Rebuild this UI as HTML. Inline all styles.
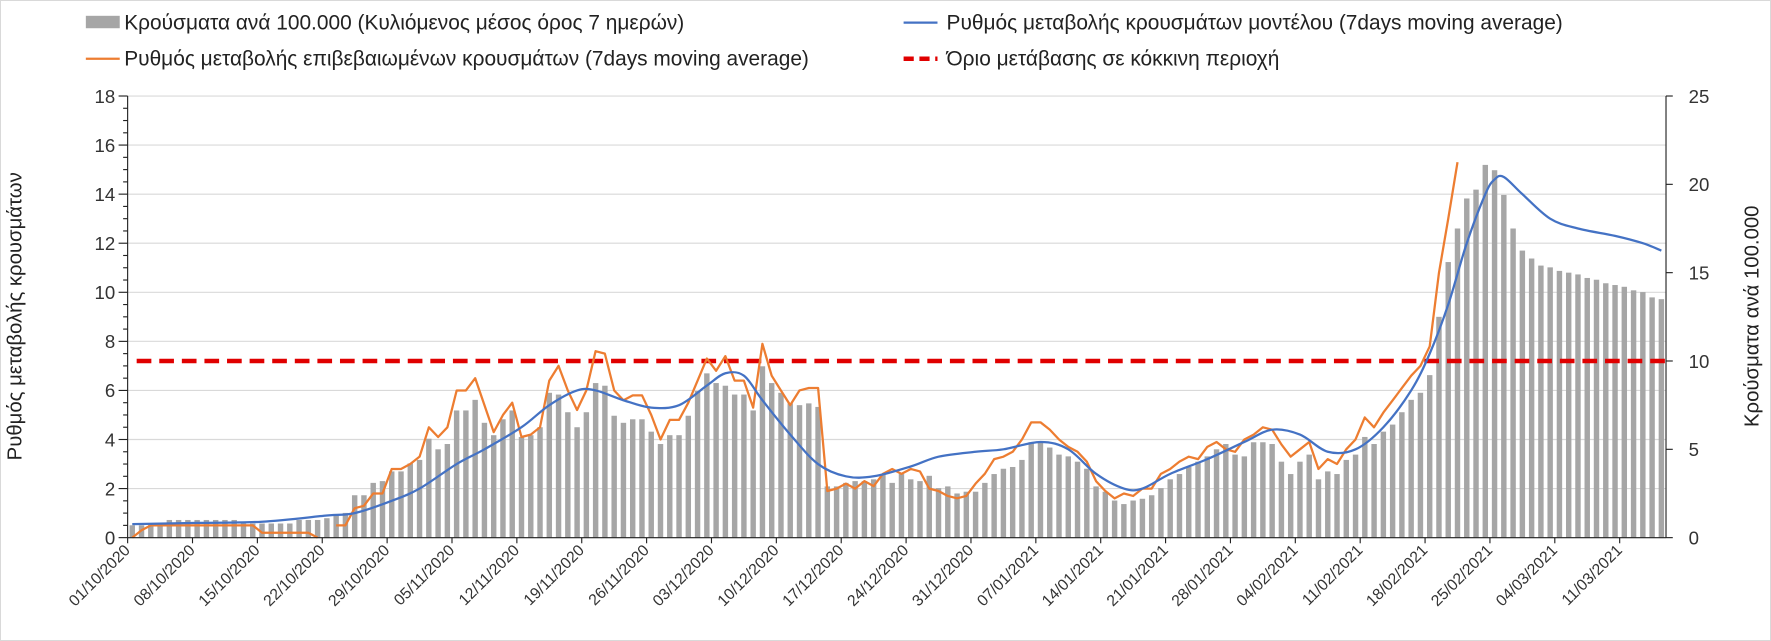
<!DOCTYPE html>
<html><head><meta charset="utf-8"><style>
body{margin:0;background:#fff;}
svg{display:block;font-family:"Liberation Sans","DejaVu Sans",sans-serif;}
</style></head><body>
<svg id="chart" width="1771" height="641" viewBox="0 0 1771 641" xmlns="http://www.w3.org/2000/svg">
<rect x="0.5" y="0.5" width="1770" height="640" fill="#fff" stroke="#d9d9d9"/>
<g transform="scale(1.1295)">
<g id="grid"></g><g id="bars"></g><g id="lines"></g><g id="axes"></g>
<g font-size="18.5" fill="#222">
 <rect x="76" y="14" width="30" height="11" fill="#a6a6a6"/>
 <text x="110" y="26">Κρούσματα ανά 100.000 (Κυλιόμενος μέσος όρος 7 ημερών)</text>
 <line x1="800" y1="20" x2="830" y2="20" stroke="#4472c4" stroke-width="2"/>
 <text x="838" y="26">Ρυθμός μεταβολής κρουσμάτων μοντέλου (7days moving average)</text>
 <line x1="76" y1="52" x2="106" y2="52" stroke="#ed7d31" stroke-width="2"/>
 <text x="110" y="58">Ρυθμός μεταβολής επιβεβαιωμένων κρουσμάτων (7days moving average)</text>
 <line x1="800" y1="52" x2="830" y2="52" stroke="#e00000" stroke-width="4" stroke-dasharray="9,5"/>
 <text x="838" y="58">Όριο μετάβασης σε κόκκινη περιοχή</text>
</g>
<text transform="translate(19,280) rotate(-90)" text-anchor="middle" font-size="18" fill="#222">Ρυθμός μεταβολής κρουσμάτων</text>
<text transform="translate(1557,280) rotate(-90)" text-anchor="middle" font-size="18" fill="#222">Κρούσματα ανά 100.000</text>
</g>
</svg>
<script>
const bars=[0.7,0.7,0.8,0.8,1.0,1.0,1.0,1.0,1.0,1.0,1.0,1.0,0.8,0.8,0.8,0.8,0.8,0.8,1.0,1.0,1.0,
1.1,1.25,1.4,2.4,2.4,3.1,3.2,
3.75,3.75,4.2,4.4,5.6,5.0,5.3,
7.2,7.2,7.8,6.5,5.8,6.7,7.2,
5.7,5.8,6.25,8.2,8.1,7.1,6.25,
7.1,8.75,8.6,6.9,6.5,6.7,6.7,
6.0,5.3,5.8,5.8,6.9,8.3,9.3,
8.75,8.6,8.1,8.1,7.2,9.7,8.75,
8.2,7.6,7.5,7.6,7.4,2.9,2.9,
3.1,3.2,3.2,3.3,3.6,3.1,3.6,
3.3,3.2,3.5,2.8,2.9,2.5,2.6,
2.6,3.1,3.6,3.9,4.0,4.4,5.4,
5.4,5.1,4.7,4.6,4.3,3.9,2.9,
2.6,2.1,1.9,2.1,2.2,2.4,2.8,
3.3,3.6,4.0,4.3,4.6,5.0,5.3,
4.7,4.6,5.4,5.4,5.3,4.3,3.6,
4.3,4.7,3.3,3.75,3.6,4.4,4.7,
5.7,5.3,6.0,6.4,7.1,7.8,8.2,
9.2,12.5,15.6,17.5,19.2,19.7,21.1,
20.8,19.4,17.5,16.25,15.8,15.4,15.3,
15.1,15.0,14.9,14.7,14.6,14.4,14.3,
14.2,14.0,13.9,13.6,13.5];
const modelDays=[0,7,14,21,24,28,31,35,38,42,45,48,50,53,56,59,62,64,66,68,71,74,77,80,84,87,91,94,98,101,104,107,109,112,116,120,123,126,129,132,135,138,140,142,144,146,147,148,150,153,156,160,163,165];
const modelVals=[0.55,0.6,0.65,0.9,1.0,1.5,2.0,3.0,3.6,4.5,5.4,6.0,6.0,5.6,5.3,5.4,6.2,6.7,6.6,5.6,4.2,3.0,2.5,2.5,2.9,3.3,3.5,3.6,3.9,3.6,2.6,2.0,2.0,2.6,3.2,3.9,4.4,4.2,3.5,3.6,4.5,6.0,7.5,9.5,12.0,14.0,14.6,14.7,14.0,13.0,12.6,12.3,12.0,11.7];
const confirmed=[0.0,0.3,0.5,0.5,0.5,0.5,0.5,0.5,0.5,0.5,0.5,0.5,0.5,0.5,0.2,0.2,0.2,0.2,0.2,0.2,0.0,null,0.5,0.5,1.2,1.3,1.8,1.8,2.8,2.8,3.0,3.3,4.5,4.1,4.5,6.0,6.0,6.5,5.4,4.3,5.0,5.5,4.1,4.2,4.5,6.4,7.0,6.0,5.2,6.0,7.6,7.5,6.0,5.6,5.8,5.8,5.0,4.0,4.8,4.8,5.5,6.4,7.3,6.8,7.4,6.4,6.4,5.3,7.9,6.6,6.0,5.4,6.0,6.1,6.1,1.9,2.0,2.2,2.0,2.3,2.1,2.6,2.8,2.6,2.8,2.7,2.0,1.9,1.7,1.6,1.7,2.2,2.6,3.2,3.3,3.5,4.0,4.7,4.7,4.4,4.0,3.7,3.5,3.1,2.3,1.9,1.6,1.8,1.7,2.0,2.0,2.6,2.8,3.1,3.3,3.2,3.7,3.9,3.6,3.5,4.0,4.2,4.5,4.4,3.8,3.3,3.6,3.9,2.8,3.2,3.0,3.6,4.0,4.9,4.5,5.1,5.6,6.1,6.6,7.0,7.8,10.8,13.0,15.3];
const threshold=[7.2];
const leftTicks=[0,2,4,6,8,10,12,14,16,18];
const rightTicks=[0,5,10,15,20,25];
const dateLabels=["01/10/2020","08/10/2020","15/10/2020","22/10/2020","29/10/2020","05/11/2020","12/11/2020","19/11/2020","26/11/2020","03/12/2020","10/12/2020","17/12/2020","24/12/2020","31/12/2020","07/01/2021","14/01/2021","21/01/2021","28/01/2021","04/02/2021","11/02/2021","18/02/2021","25/02/2021","04/03/2021","11/03/2021"];

const NS="http://www.w3.org/2000/svg";
const X0=113,X1=1475,Y0=476,Y1=85,N=166;
const step=(X1-X0)/N;
const xd=d=>X0+step*(d+0.5);
const yl=v=>Y0-(v/18)*(Y0-Y1);
const yr=v=>Y0-(v/25)*(Y0-Y1);
function mk(tag,attrs,parent){const e=document.createElementNS(NS,tag);for(const k in attrs)e.setAttribute(k,attrs[k]);parent.appendChild(e);return e;}
const grid=document.getElementById('grid'),gb=document.getElementById('bars'),gl=document.getElementById('lines'),ga=document.getElementById('axes');
leftTicks.forEach(t=>{
 const l=mk('line',{x1:X0,x2:X1,y1:yl(t),y2:yl(t),stroke:'#d9d9d9','stroke-width':1},grid);
 
 
 const tx=mk('text',{x:X0-11,y:yl(t)+6,'text-anchor':'end','font-size':16.5,fill:'#333'},ga);
 tx.textContent=t;
 
 
});
for(let v=0;v<=18;v+=0.5){mk('line',{x1:X0-(v%2===0?8:4),x2:X0,y1:yl(v),y2:yl(v),stroke:'#222','stroke-width':1},ga);}
rightTicks.forEach(t=>{
 mk('line',{x1:X1,x2:X1+6,y1:yr(t),y2:yr(t),stroke:'#222'},ga);
 const tx=mk('text',{x:X1+20,y:yr(t)+6,'font-size':16.5,fill:'#333'},ga);
 tx.textContent=t;
 
 
});
mk('line',{x1:X0,x2:X0,y1:Y1,y2:Y0,stroke:'#222'},ga);
mk('line',{x1:X1,x2:X1,y1:Y1,y2:Y0,stroke:'#222'},ga);
mk('line',{x1:X0,x2:X1,y1:Y0,y2:Y0,stroke:'#222'},ga);
bars.forEach((v,i)=>{
 const r=mk('rect',{x:xd(i)-2.4,y:yr(v),width:4.8,height:Y0-yr(v),fill:'#a6a6a6'},gb);
 
 
});
dateLabels.forEach((s,i)=>{
 const d=i*7,x=X0+step*d;
 mk('line',{x1:x,x2:x,y1:Y0,y2:Y0+5,stroke:'#222'},ga);
 const tx=mk('text',{transform:`translate(${x+3},${Y0+12}) rotate(-45)`,'text-anchor':'end','font-size':14,fill:'#333'},ga);
 tx.textContent=s;
 
 
});
const th=mk('line',{x1:X0+8,x2:X1,y1:yl(threshold[0]),y2:yl(threshold[0]),stroke:'#e00000','stroke-width':4,'stroke-dasharray':'13,7'},gl);


let segs=[],cur=[];
confirmed.forEach((v,i)=>{if(v===null){if(cur.length)segs.push(cur);cur=[];}else cur.push(xd(i).toFixed(1)+','+yl(v).toFixed(1));});
if(cur.length)segs.push(cur);
segs.forEach(s=>{
 const p=mk('polyline',{points:s.join(' '),fill:'none',stroke:'#ed7d31','stroke-width':2,'stroke-linejoin':'round'},gl);
 
 
});
const pts=modelDays.map((d,i)=>[xd(d),yl(modelVals[i])]);
let dstr='M'+pts[0][0]+','+pts[0][1];
for(let i=0;i<pts.length-1;i++){const p0=pts[Math.max(0,i-1)],p1=pts[i],p2=pts[i+1],p3=pts[Math.min(pts.length-1,i+2)];
 dstr+=` C${p1[0]+(p2[0]-p0[0])/6},${p1[1]+(p2[1]-p0[1])/6} ${p2[0]-(p3[0]-p1[0])/6},${p2[1]-(p3[1]-p1[1])/6} ${p2[0]},${p2[1]}`;}
const mp=mk('path',{d:dstr,fill:'none',stroke:'#4472c4','stroke-width':2},gl);


</script>
</body></html>
